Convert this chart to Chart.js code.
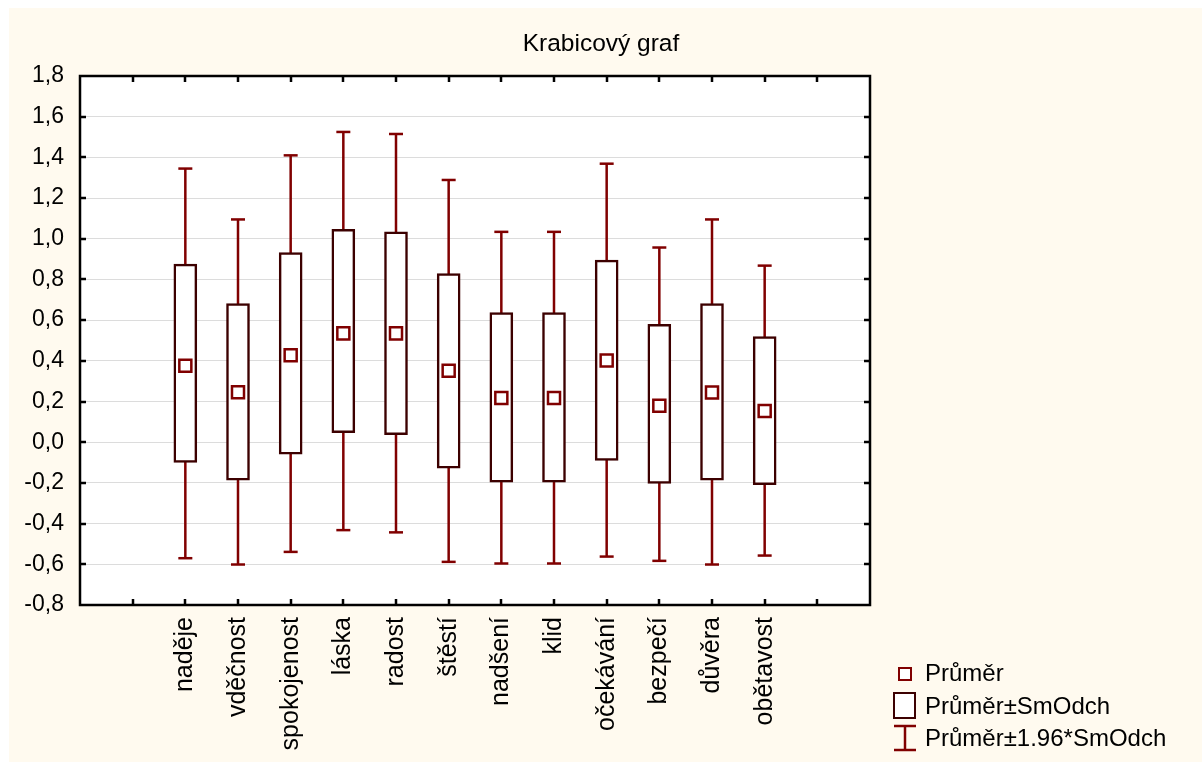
<!DOCTYPE html>
<html>
<head>
<meta charset="utf-8">
<script src="https://cdn.jsdelivr.net/npm/chart.js@4.4.0/dist/chart.umd.min.js"></script>
<style>
  body { margin: 0; background: #fff; font-family: Arial, "Liberation Sans", sans-serif; }
  #wrap { position: relative; width: 1202px; height: 762px; overflow: hidden; }
  #paper { position: absolute; left: 9px; top: 8px; right: 0; bottom: 0; background: #fffaef; }
  #chart { position: absolute; left: 0; top: 0; }
  #title { position: absolute; left: 0; width: 1202px; top: 28px; text-align: center; font-size: 24.5px; line-height: 30px; color: #000; }
  .leg { position: absolute; left: 925px; font-size: 24px; color: #000; line-height: 28px; }
  .ico { position: absolute; box-sizing: border-box; }
</style>
</head>
<body>
<div id="wrap">
  <div id="paper"></div>
  <canvas id="chart" width="1202" height="762"></canvas>
  <div id="title">Krabicový graf</div>

  <div class="ico" style="left:898px;top:667px;width:14px;height:14px;border:2.5px solid #800000;background:#fff"></div>
  <div class="leg" style="top:659px">Průměr</div>

  <div class="ico" style="left:893px;top:692px;width:23px;height:27px;border:2.5px solid #3c0000;background:#fff"></div>
  <div class="leg" style="top:692px">Průměr±SmOdch</div>

  <svg class="ico" style="left:893px;top:724px" width="24" height="28">
    <line x1="1" y1="2" x2="23" y2="2" stroke="#800000" stroke-width="2.5"/>
    <line x1="12" y1="2" x2="12" y2="26" stroke="#800000" stroke-width="2.5"/>
    <line x1="1" y1="26" x2="23" y2="26" stroke="#800000" stroke-width="2.5"/>
  </svg>
  <div class="leg" style="top:724px">Průměr±1.96*SmOdch</div>
</div>

<script>
//-- data ---->
var categories = ['naděje','vděčnost','spokojenost','láska','radost','štěstí','nadšení','klid','očekávání','bezpečí','důvěra','obětavost'];
var means     = [0.376, 0.246, 0.428, 0.535, 0.535, 0.351, 0.217, 0.217, 0.402, 0.179, 0.244, 0.153];
var sdLow     = [-0.099,-0.186,-0.059, 0.047, 0.037,-0.128,-0.196,-0.196,-0.089,-0.202,-0.187,-0.209];
var sdHigh    = [0.875, 0.681, 0.932, 1.046, 1.034, 0.829, 0.637, 0.637, 0.895, 0.579, 0.681, 0.519];
var whiskLow  = [-0.570,-0.601,-0.539,-0.432,-0.443,-0.588,-0.596,-0.596,-0.562,-0.583,-0.601,-0.557];
var whiskHigh = [1.345, 1.095, 1.410, 1.525, 1.515, 1.289, 1.034, 1.034, 1.369, 0.957, 1.095, 0.868];
var yTicks = [-0.8, 1.8, 0.2];   //-- min, max, step

var FONT = 'Arial, "Liberation Sans", sans-serif';

//-- build datasets ---->
var boxData = [], meanData = [], whiskData = [];
for (let i = 0; i < categories.length; i++) {
    let x = i + 2;
    boxData.push({ x: x, y: [sdLow[i], sdHigh[i]] });
    meanData.push({ x: x, y: means[i] });
    whiskData.push({ x: x, y: whiskLow[i] });
    whiskData.push({ x: x, y: whiskHigh[i] });
    whiskData.push({ x: x, y: null });
}

//-- white plot area + frame + inward ticks ---->
var framePlugin = {
    id: 'frame',
    beforeDraw(chart) {
        let a = chart.chartArea, c = chart.ctx;
        c.save();
        c.fillStyle = '#fff';
        c.fillRect(a.left, a.top, a.right - a.left, a.bottom - a.top);
        c.restore();
    },
    afterDraw(chart) {
        let a = chart.chartArea, c = chart.ctx;
        let xs = chart.scales.x, ys = chart.scales.y;
        c.save();
        c.strokeStyle = '#000';
        c.lineWidth = 2.5;
        c.beginPath();
        xs.ticks.forEach(t => {
            if (t.value <= xs.min || t.value >= xs.max) return;
            let px = Math.round(xs.getPixelForValue(t.value));
            c.moveTo(px, a.bottom); c.lineTo(px, a.bottom - 6);
            c.moveTo(px, a.top); c.lineTo(px, a.top + 6);
        });
        ys.ticks.forEach(t => {
            if (t.value <= ys.min + 1e-9 || t.value >= ys.max - 1e-9) return;
            let py = Math.round(ys.getPixelForValue(t.value));
            c.moveTo(a.left, py); c.lineTo(a.left + 6, py);
            c.moveTo(a.right, py); c.lineTo(a.right - 6, py);
        });
        c.stroke();
        c.strokeRect(a.left, a.top, a.right - a.left, a.bottom - a.top);
        c.restore();
    }
};

var ctx = document.getElementById('chart');
var myChart = new Chart(ctx, {
    type: 'bar',
    data: {
        datasets: [
            {
                type: 'scatter',
                label: 'Průměr',
                data: meanData,
                showLine: false,
                pointStyle: 'rect',
                pointRadius: 8.5,
                pointBorderWidth: 2.5,
                pointBorderColor: '#800000',
                pointBackgroundColor: '#ffffff',
                order: 1
            },
            {
                type: 'bar',
                label: 'Průměr±SmOdch',
                data: boxData,
                backgroundColor: '#ffffff',
                borderColor: '#3c0000',
                borderWidth: 2.5,
                borderSkipped: false,
                barThickness: 23,
                order: 2
            },
            {
                type: 'line',
                label: 'Průměr±1.96*SmOdch',
                data: whiskData,
                borderColor: '#800000',
                borderWidth: 2.5,
                spanGaps: false,
                pointStyle: 'line',
                pointRadius: 7,
                pointBorderWidth: 2.5,
                pointBorderColor: '#800000',
                order: 3
            }
        ]
    },
    options: {
        responsive: false,
        animation: false,
        layout: { padding: { left: 0, top: 76, right: 332, bottom: 0 } },
        plugins: {
            legend: { display: false },
            tooltip: { enabled: false }
        },
        scales: {
            x: {
                type: 'linear',
                offset: false,
                min: 0,
                max: 15,
                afterFit(s) { s.height = 157; },
                grid: { display: false, drawTicks: false, offset: false },
                border: { display: false },
                ticks: {
                    stepSize: 1,
                    autoSkip: false,
                    minRotation: 90,
                    maxRotation: 90,
                    padding: 12,
                    color: '#000',
                    font: { family: FONT, size: 25 },
                    callback: v => categories[v - 2] || ''
                }
            },
            y: {
                min: yTicks[0],
                max: yTicks[1],
                afterFit(s) { s.width = 80; },
                grid: { color: '#dcdcdc', lineWidth: 1, drawTicks: false },
                border: { display: false },
                ticks: {
                    stepSize: yTicks[2],
                    padding: 16,
                    color: '#000',
                    font: { family: FONT, size: 23 },
                    callback: v => (Math.abs(v) < 1e-9 ? 0 : v).toFixed(1).replace('.', ',')
                }
            }
        }
    },
    plugins: [framePlugin]
});
</script>
</body>
</html>
